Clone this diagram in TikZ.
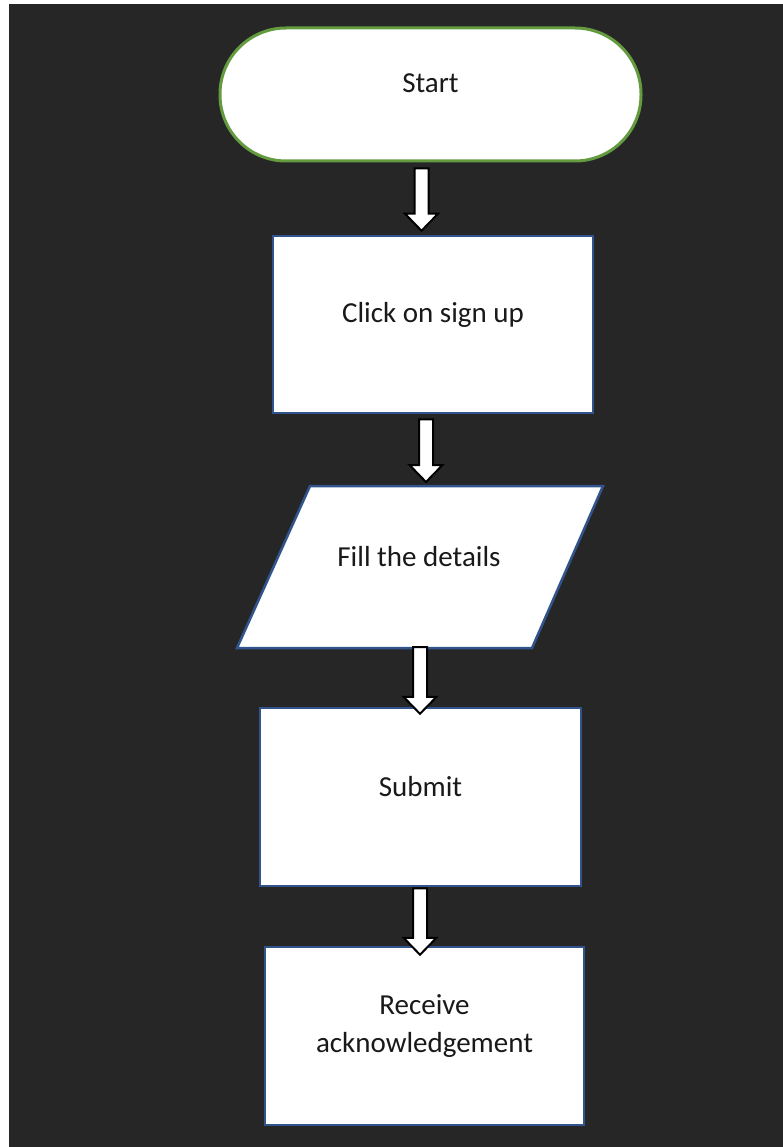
\documentclass[tikz,border=0pt]{standalone}
\usepackage{fontspec}
\setmainfont{Carlito}
\usetikzlibrary{calc}
\definecolor{bgdark}{RGB}{38,38,38}
\definecolor{termgreen}{RGB}{100,155,62}
\definecolor{boxblue}{RGB}{50,84,140}
\definecolor{txt}{RGB}{25,25,25}
\tikzset{
  txtstyle/.style={text=txt, font=\fontsize{29}{38}\selectfont, align=center},
  termstyle/.style={draw=termgreen, line width=3pt, fill=white, rounded corners=66pt, inner sep=0pt},
  procstyle/.style={draw=boxblue, line width=2.5pt, fill=white, inner sep=0pt},
  iostyle/.style={draw=boxblue, line width=2.5pt, fill=white},
  blockarrowstyle/.style={draw=black, line width=2pt, fill=white, line join=miter}
}
\newcommand\blockarrow[2]{%
  \draw[blockarrowstyle] let \p1=#1, \p2=#2 in
    (\x1-7pt,\y1) -- (\x1+7pt,\y1) -- (\x1+7pt,\y2+17pt) -- (\x1+16.5pt,\y2+17pt)
    -- (\x1,\y2) -- (\x1-16.5pt,\y2+17pt) -- (\x1-7pt,\y2+17pt) -- cycle;%
}
\begin{document}
\begin{tikzpicture}[x=1pt,y=-1pt]
  \fill[white] (0,0) rectangle (783,1147);
  \fill[bgdark] (9,4) rectangle (783,1147);
  \useasboundingbox (0,0) rectangle (783,1147);

  % Start terminal
  \node[termstyle, minimum width=421pt, minimum height=133pt,
        label={[txtstyle, yshift=11.5pt]center:Start}] (start) at (430.5,94.5) {};

  % Click on sign up
  \node[procstyle, minimum width=320pt, minimum height=177pt,
        label={[txtstyle, yshift=9.5pt]center:Click on sign up}] (click) at (433,324.5) {};

  % Fill the details (parallelogram)
  \draw[iostyle] (310,486) -- (603,486) -- (532,648) -- (237,648) -- cycle;
  \coordinate (paran) at (456.5,486);
  \coordinate (paras) at (384.5,648);
  \node[txtstyle] (fill) at (419,557) {Fill the details};

  % Submit
  \node[procstyle, minimum width=321pt, minimum height=178pt,
        label={[txtstyle, yshift=10pt]center:Submit}] (submit) at (420.5,797) {};

  % Receive acknowledgement
  \node[procstyle, minimum width=319pt, minimum height=178pt,
        label={[txtstyle, yshift=10pt]center:{Receive\\acknowledgement}}] (ack) at (424.5,1036) {};

  % Block arrows
  \blockarrow{($(start.south)+(-9,6)$)}{($(click.north)+(0,-4)$)}
  \blockarrow{($(click.south)+(-7,5)$)}{($(paran)+(0,-4)$)}
  \blockarrow{($(paras)+(35.5,-1)$)}{($(submit.north)+(0,7)$)}
  \blockarrow{($(submit.south)+(-0.5,1)$)}{($(ack.north)+(0,9)$)}
\end{tikzpicture}
\end{document}
